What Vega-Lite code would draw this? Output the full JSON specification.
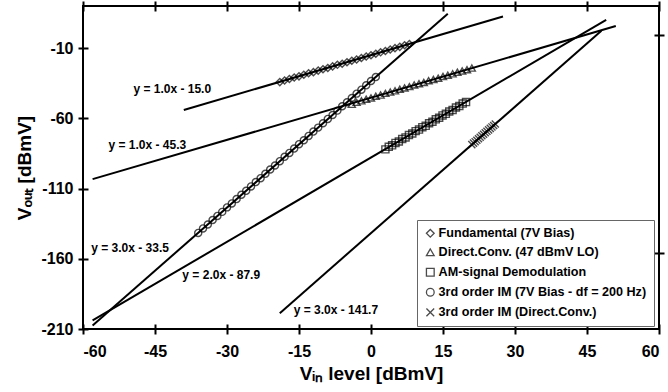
{
  "$schema": "https://vega.github.io/schema/vega-lite/v6.json",
  "autosize": "none",
  "width": 576,
  "height": 323,
  "padding": {"left": 83, "top": 6, "right": 9, "bottom": 63},
  "background": "white",
  "config": {
    "font": "Liberation Sans",
    "view": {"stroke": "black", "strokeWidth": 2},
    "axis": {"grid": false, "domain": false, "tickColor": "black", "tickWidth": 2, "tickSize": 10, "offset": -5, "labelColor": "black", "titleColor": "black"},
    "legend": {
      "orient": "none",
      "legendX": 334,
      "legendY": 214,
      "strokeColor": "#666666",
      "fillColor": "white",
      "padding": 7,
      "rowPadding": 6,
      "labelFontSize": 12.6,
      "labelFontWeight": "bold",
      "labelColor": "black",
      "labelOffset": 2,
      "symbolSize": 60,
      "symbolStrokeColor": "black",
      "symbolFillColor": "transparent",
      "symbolStrokeWidth": 1.3,
      "labelLimit": 400
    }
  },
  "datasets": {
    "lines": [
      {"line": "L1", "x": -39, "y": -54},
      {"line": "L1", "x": 27.5, "y": 12.5},
      {"line": "L2", "x": -58, "y": -103.3},
      {"line": "L2", "x": 51, "y": 5.7},
      {"line": "L3", "x": -58, "y": -207.5},
      {"line": "L3", "x": 16, "y": 14.5},
      {"line": "L4", "x": -58, "y": -203.9},
      {"line": "L4", "x": 49, "y": 10.1},
      {"line": "L5", "x": -19, "y": -198.7},
      {"line": "L5", "x": 48, "y": 2.3}
    ],
    "points": [
      {"series": "Fundamental (7V Bias)", "x": -19, "y": -34.2},
      {"series": "Fundamental (7V Bias)", "x": -18, "y": -33.1},
      {"series": "Fundamental (7V Bias)", "x": -17, "y": -32.0},
      {"series": "Fundamental (7V Bias)", "x": -16, "y": -30.9},
      {"series": "Fundamental (7V Bias)", "x": -15, "y": -30.1},
      {"series": "Fundamental (7V Bias)", "x": -14, "y": -29.0},
      {"series": "Fundamental (7V Bias)", "x": -13, "y": -27.9},
      {"series": "Fundamental (7V Bias)", "x": -12, "y": -27.1},
      {"series": "Fundamental (7V Bias)", "x": -11, "y": -26.0},
      {"series": "Fundamental (7V Bias)", "x": -10, "y": -25.0},
      {"series": "Fundamental (7V Bias)", "x": -9, "y": -24.1},
      {"series": "Fundamental (7V Bias)", "x": -8, "y": -23.0},
      {"series": "Fundamental (7V Bias)", "x": -7, "y": -21.9},
      {"series": "Fundamental (7V Bias)", "x": -6, "y": -21.1},
      {"series": "Fundamental (7V Bias)", "x": -5, "y": -20.0},
      {"series": "Fundamental (7V Bias)", "x": -4, "y": -19.0},
      {"series": "Fundamental (7V Bias)", "x": -3, "y": -18.1},
      {"series": "Fundamental (7V Bias)", "x": -2, "y": -17.0},
      {"series": "Fundamental (7V Bias)", "x": -1, "y": -16.0},
      {"series": "Fundamental (7V Bias)", "x": 0, "y": -15.1},
      {"series": "Fundamental (7V Bias)", "x": 1, "y": -14.0},
      {"series": "Fundamental (7V Bias)", "x": 2, "y": -13.0},
      {"series": "Fundamental (7V Bias)", "x": 3, "y": -12.1},
      {"series": "Fundamental (7V Bias)", "x": 4, "y": -11.0},
      {"series": "Fundamental (7V Bias)", "x": 5, "y": -10.0},
      {"series": "Fundamental (7V Bias)", "x": 6, "y": -9.1},
      {"series": "Fundamental (7V Bias)", "x": 7, "y": -8.0},
      {"series": "Fundamental (7V Bias)", "x": 8, "y": -7.1},
      {"series": "Direct.Conv. (47 dBmV LO)", "x": -4, "y": -50.0},
      {"series": "Direct.Conv. (47 dBmV LO)", "x": -3, "y": -48.6},
      {"series": "Direct.Conv. (47 dBmV LO)", "x": -2, "y": -47.5},
      {"series": "Direct.Conv. (47 dBmV LO)", "x": -1, "y": -46.4},
      {"series": "Direct.Conv. (47 dBmV LO)", "x": 0, "y": -45.5},
      {"series": "Direct.Conv. (47 dBmV LO)", "x": 1, "y": -44.2},
      {"series": "Direct.Conv. (47 dBmV LO)", "x": 2, "y": -43.4},
      {"series": "Direct.Conv. (47 dBmV LO)", "x": 3, "y": -42.2},
      {"series": "Direct.Conv. (47 dBmV LO)", "x": 4, "y": -41.3},
      {"series": "Direct.Conv. (47 dBmV LO)", "x": 5, "y": -40.4},
      {"series": "Direct.Conv. (47 dBmV LO)", "x": 6, "y": -39.2},
      {"series": "Direct.Conv. (47 dBmV LO)", "x": 7, "y": -38.3},
      {"series": "Direct.Conv. (47 dBmV LO)", "x": 8, "y": -37.4},
      {"series": "Direct.Conv. (47 dBmV LO)", "x": 9, "y": -36.2},
      {"series": "Direct.Conv. (47 dBmV LO)", "x": 10, "y": -35.3},
      {"series": "Direct.Conv. (47 dBmV LO)", "x": 11, "y": -34.4},
      {"series": "Direct.Conv. (47 dBmV LO)", "x": 12, "y": -33.2},
      {"series": "Direct.Conv. (47 dBmV LO)", "x": 13, "y": -32.3},
      {"series": "Direct.Conv. (47 dBmV LO)", "x": 14, "y": -31.4},
      {"series": "Direct.Conv. (47 dBmV LO)", "x": 15, "y": -30.2},
      {"series": "Direct.Conv. (47 dBmV LO)", "x": 16, "y": -29.3},
      {"series": "Direct.Conv. (47 dBmV LO)", "x": 17, "y": -28.3},
      {"series": "Direct.Conv. (47 dBmV LO)", "x": 18, "y": -27.2},
      {"series": "Direct.Conv. (47 dBmV LO)", "x": 19, "y": -26.3},
      {"series": "Direct.Conv. (47 dBmV LO)", "x": 20, "y": -25.4},
      {"series": "Direct.Conv. (47 dBmV LO)", "x": 21, "y": -24.2},
      {"series": "AM-signal Demodulation", "x": 3, "y": -82.1},
      {"series": "AM-signal Demodulation", "x": 3.7, "y": -80.3},
      {"series": "AM-signal Demodulation", "x": 4.4, "y": -79.2},
      {"series": "AM-signal Demodulation", "x": 5.1, "y": -77.5},
      {"series": "AM-signal Demodulation", "x": 5.8, "y": -76.5},
      {"series": "AM-signal Demodulation", "x": 6.5, "y": -74.7},
      {"series": "AM-signal Demodulation", "x": 7.2, "y": -73.6},
      {"series": "AM-signal Demodulation", "x": 7.9, "y": -71.9},
      {"series": "AM-signal Demodulation", "x": 8.6, "y": -70.8},
      {"series": "AM-signal Demodulation", "x": 9.3, "y": -69.1},
      {"series": "AM-signal Demodulation", "x": 10, "y": -68.0},
      {"series": "AM-signal Demodulation", "x": 10.7, "y": -66.3},
      {"series": "AM-signal Demodulation", "x": 11.4, "y": -65.3},
      {"series": "AM-signal Demodulation", "x": 12.1, "y": -63.5},
      {"series": "AM-signal Demodulation", "x": 12.8, "y": -62.4},
      {"series": "AM-signal Demodulation", "x": 13.5, "y": -60.7},
      {"series": "AM-signal Demodulation", "x": 14.2, "y": -59.6},
      {"series": "AM-signal Demodulation", "x": 14.9, "y": -57.9},
      {"series": "AM-signal Demodulation", "x": 15.6, "y": -56.8},
      {"series": "AM-signal Demodulation", "x": 16.3, "y": -55.1},
      {"series": "AM-signal Demodulation", "x": 17, "y": -54.0},
      {"series": "AM-signal Demodulation", "x": 17.7, "y": -52.3},
      {"series": "AM-signal Demodulation", "x": 18.4, "y": -51.2},
      {"series": "AM-signal Demodulation", "x": 19.1, "y": -49.5},
      {"series": "AM-signal Demodulation", "x": 19.8, "y": -48.4},
      {"series": "3rd order IM (7V Bias - df = 200 Hz)", "x": -36, "y": -141.6},
      {"series": "3rd order IM (7V Bias - df = 200 Hz)", "x": -35, "y": -138.4},
      {"series": "3rd order IM (7V Bias - df = 200 Hz)", "x": -34, "y": -135.6},
      {"series": "3rd order IM (7V Bias - df = 200 Hz)", "x": -33, "y": -132.4},
      {"series": "3rd order IM (7V Bias - df = 200 Hz)", "x": -32, "y": -129.5},
      {"series": "3rd order IM (7V Bias - df = 200 Hz)", "x": -31, "y": -126.6},
      {"series": "3rd order IM (7V Bias - df = 200 Hz)", "x": -30, "y": -123.4},
      {"series": "3rd order IM (7V Bias - df = 200 Hz)", "x": -29, "y": -120.6},
      {"series": "3rd order IM (7V Bias - df = 200 Hz)", "x": -28, "y": -117.5},
      {"series": "3rd order IM (7V Bias - df = 200 Hz)", "x": -27, "y": -114.4},
      {"series": "3rd order IM (7V Bias - df = 200 Hz)", "x": -26, "y": -111.6},
      {"series": "3rd order IM (7V Bias - df = 200 Hz)", "x": -25, "y": -108.5},
      {"series": "3rd order IM (7V Bias - df = 200 Hz)", "x": -24, "y": -105.4},
      {"series": "3rd order IM (7V Bias - df = 200 Hz)", "x": -23, "y": -102.6},
      {"series": "3rd order IM (7V Bias - df = 200 Hz)", "x": -22, "y": -99.5},
      {"series": "3rd order IM (7V Bias - df = 200 Hz)", "x": -21, "y": -96.4},
      {"series": "3rd order IM (7V Bias - df = 200 Hz)", "x": -20, "y": -93.6},
      {"series": "3rd order IM (7V Bias - df = 200 Hz)", "x": -19, "y": -90.5},
      {"series": "3rd order IM (7V Bias - df = 200 Hz)", "x": -18, "y": -87.4},
      {"series": "3rd order IM (7V Bias - df = 200 Hz)", "x": -17, "y": -84.6},
      {"series": "3rd order IM (7V Bias - df = 200 Hz)", "x": -16, "y": -81.5},
      {"series": "3rd order IM (7V Bias - df = 200 Hz)", "x": -15, "y": -78.4},
      {"series": "3rd order IM (7V Bias - df = 200 Hz)", "x": -14, "y": -75.6},
      {"series": "3rd order IM (7V Bias - df = 200 Hz)", "x": -13, "y": -72.5},
      {"series": "3rd order IM (7V Bias - df = 200 Hz)", "x": -12, "y": -69.4},
      {"series": "3rd order IM (7V Bias - df = 200 Hz)", "x": -11, "y": -66.6},
      {"series": "3rd order IM (7V Bias - df = 200 Hz)", "x": -10, "y": -63.5},
      {"series": "3rd order IM (7V Bias - df = 200 Hz)", "x": -9, "y": -60.4},
      {"series": "3rd order IM (7V Bias - df = 200 Hz)", "x": -8, "y": -57.6},
      {"series": "3rd order IM (7V Bias - df = 200 Hz)", "x": -7, "y": -54.5},
      {"series": "3rd order IM (7V Bias - df = 200 Hz)", "x": -6, "y": -51.4},
      {"series": "3rd order IM (7V Bias - df = 200 Hz)", "x": -5, "y": -48.6},
      {"series": "3rd order IM (7V Bias - df = 200 Hz)", "x": -4, "y": -45.5},
      {"series": "3rd order IM (7V Bias - df = 200 Hz)", "x": -3, "y": -42.4},
      {"series": "3rd order IM (7V Bias - df = 200 Hz)", "x": -2, "y": -39.6},
      {"series": "3rd order IM (7V Bias - df = 200 Hz)", "x": -1, "y": -36.5},
      {"series": "3rd order IM (7V Bias - df = 200 Hz)", "x": 0, "y": -33.4},
      {"series": "3rd order IM (7V Bias - df = 200 Hz)", "x": 1, "y": -30.6},
      {"series": "3rd order IM (Direct.Conv.)", "x": 21.0, "y": -78.7},
      {"series": "3rd order IM (Direct.Conv.)", "x": 21.35, "y": -77.65},
      {"series": "3rd order IM (Direct.Conv.)", "x": 21.7, "y": -76.6},
      {"series": "3rd order IM (Direct.Conv.)", "x": 22.05, "y": -75.55},
      {"series": "3rd order IM (Direct.Conv.)", "x": 22.4, "y": -74.5},
      {"series": "3rd order IM (Direct.Conv.)", "x": 22.75, "y": -73.45},
      {"series": "3rd order IM (Direct.Conv.)", "x": 23.1, "y": -72.4},
      {"series": "3rd order IM (Direct.Conv.)", "x": 23.45, "y": -71.35},
      {"series": "3rd order IM (Direct.Conv.)", "x": 23.8, "y": -70.3},
      {"series": "3rd order IM (Direct.Conv.)", "x": 24.15, "y": -69.25},
      {"series": "3rd order IM (Direct.Conv.)", "x": 24.5, "y": -68.2},
      {"series": "3rd order IM (Direct.Conv.)", "x": 24.85, "y": -67.15},
      {"series": "3rd order IM (Direct.Conv.)", "x": 25.2, "y": -66.1},
      {"series": "3rd order IM (Direct.Conv.)", "x": 25.55, "y": -65.05},
      {"series": "3rd order IM (Direct.Conv.)", "x": 25.9, "y": -64.0}
    ],
    "labels": [
      {"text": "y = 1.0x - 15.0", "x": -49.5, "y": -39.1},
      {"text": "y = 1.0x - 45.3", "x": -54.7, "y": -79.1},
      {"text": "y = 3.0x - 33.5", "x": -58.3, "y": -152.6},
      {"text": "y = 2.0x - 87.9", "x": -39.3, "y": -171.2},
      {"text": "y = 3.0x - 141.7", "x": -16.1, "y": -196.2}
    ]
  },
  "layer": [
    {
      "data": {"name": "lines"},
      "mark": {"type": "line", "color": "black", "strokeWidth": 2},
      "encoding": {
        "x": {"field": "x", "type": "quantitative",
          "scale": {"domain": [-60, 60], "nice": false, "zero": false},
          "axis": {"orient": "bottom", "values": [-60, -45, -30, -15, 0, 15, 30, 45, 60],
            "labelExpr": "'' + datum.value",
            "labelFontSize": 16, "labelFontWeight": "bold", "labelPadding": 9,
            "title": "Vᵢₙ level [dBmV]", "titleFontSize": 19, "titleFontWeight": "bold", "titlePadding": 5}},
        "y": {"field": "y", "type": "quantitative",
          "scale": {"domain": [-210, 20], "nice": false, "zero": false},
          "axis": {"orient": "left", "values": [-210, -160, -110, -60, -10],
            "labelExpr": "'' + datum.value",
            "labelFontSize": 16, "labelFontWeight": "bold", "labelPadding": 5,
            "title": "Vₒᵤₜ [dBmV]", "titleFontSize": 19, "titleFontWeight": "bold", "titlePadding": 6}},
        "detail": {"field": "line", "type": "nominal"}
      }
    },
    {
      "data": {"name": "points"},
      "mark": {"type": "point", "filled": false, "stroke": "black", "strokeWidth": 1.4, "size": 50},
      "encoding": {
        "x": {"field": "x", "type": "quantitative",
          "scale": {"domain": [-60, 60], "nice": false, "zero": false},
          "axis": {"orient": "top", "values": [-60, -45, -30, -15, 0, 15, 30, 45, 60], "labels": false, "title": null}},
        "y": {"field": "y", "type": "quantitative",
          "scale": {"domain": [-210, 20], "nice": false, "zero": false},
          "axis": {"orient": "right", "values": [-156, -1], "labels": false, "title": null}},
        "shape": {"field": "series", "type": "nominal",
          "scale": {
            "domain": ["Fundamental (7V Bias)", "Direct.Conv. (47 dBmV LO)", "AM-signal Demodulation", "3rd order IM (7V Bias - df = 200 Hz)", "3rd order IM (Direct.Conv.)"],
            "range": ["diamond", "triangle-up", "square", "circle", "M-1,-1L1,1M-1,1L1,-1"]},
          "legend": {"title": null}}
      }
    },
    {
      "data": {"name": "labels"},
      "mark": {"type": "text", "align": "left", "baseline": "middle", "fontSize": 12, "fontWeight": "bold", "color": "black"},
      "encoding": {
        "x": {"field": "x", "type": "quantitative", "axis": null},
        "y": {"field": "y", "type": "quantitative", "axis": null},
        "text": {"field": "text"}
      }
    }
  ],
  "resolve": {"axis": {"x": "independent", "y": "independent"}}
}
